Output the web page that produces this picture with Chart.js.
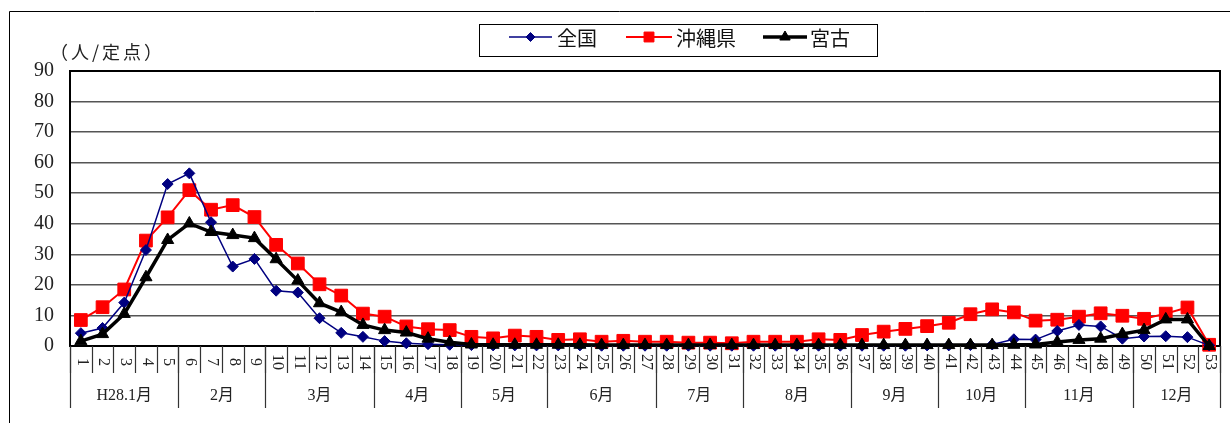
<!DOCTYPE html>
<html>
<head>
<meta charset="utf-8">
<script src="https://cdn.jsdelivr.net/npm/chart.js@4.4.1/dist/chart.umd.min.js"></script>
<style>
  html, body { margin: 0; padding: 0; background: #fff; }
</style>
</head>
<body>
<canvas id="myCanvas" width="1230" height="423"></canvas>
<script>
// week numbers along the bottom
var weeks = [
  '1', '2', '3', '4', '5', '6', '7', '8', '9', '10',
  '11', '12', '13', '14', '15', '16', '17', '18', '19', '20',
  '21', '22', '23', '24', '25', '26', '27', '28', '29', '30',
  '31', '32', '33', '34', '35', '36', '37', '38', '39', '40',
  '41', '42', '43', '44', '45', '46', '47', '48', '49', '50',
  '51', '52', '53'
];

// month row under the weeks, and the last week of each month
var monthLabels = ['H28.1月', '2月', '3月', '4月', '5月', '6月', '7月', '8月', '9月', '10月', '11月', '12月'];
var monthLastWeek = [5, 9, 14, 18, 22, 27, 31, 36, 40, 44, 49, 53];

var yTicks = [0, 10, 20, 30, 40, 50, 60, 70, 80, 90];

var zenkoku = [
  4.2, 5.9, 14.2, 31.4, 53.0, 56.5, 40.5, 26.0, 28.5, 18.1,
  17.5, 9.1, 4.3, 3.0, 1.6, 0.9, 0.6, 0.4, 0.3, 0.2,
  0.2, 0.2, 0.2, 0.2, 0.1, 0.1, 0.1, 0.1, 0.1, 0.1,
  0.1, 0.1, 0.1, 0.1, 0.1, 0.1, 0.1, 0.1, 0.1, 0.2,
  0.2, 0.3, 0.5, 2.2, 2.1, 4.9, 6.9, 6.4, 2.4, 3.1,
  3.2, 2.9, 0.2
];

var okinawa = [
  8.5, 12.7, 18.5, 34.5, 42.1, 51.0, 44.6, 46.1, 42.2, 33.1,
  27.0, 20.2, 16.5, 10.6, 9.6, 6.4, 5.5, 5.2, 3.0, 2.5,
  3.4, 3.0, 2.0, 2.2, 1.4, 1.7, 1.4, 1.4, 1.1, 1.1,
  0.9, 1.4, 1.4, 1.4, 2.2, 2.0, 3.6, 4.7, 5.6, 6.5,
  7.6, 10.4, 12.0, 11.0, 8.3, 8.6, 9.6, 10.7, 9.9, 8.9,
  10.6, 12.6, 0.4
];

var miyako = [
  1.6, 3.9, 10.5, 22.5, 34.7, 40.1, 37.3, 36.3, 35.3, 28.4,
  21.4, 14.0, 11.1, 6.9, 5.2, 4.4, 2.4, 1.2, 0.5, 0.4,
  0.4, 0.4, 0.4, 0.4, 0.3, 0.3, 0.3, 0.3, 0.3, 0.3,
  0.3, 0.3, 0.3, 0.3, 0.3, 0.3, 0.3, 0.3, 0.3, 0.3,
  0.3, 0.3, 0.3, 0.4, 0.5, 1.3, 2.0, 2.4, 3.9, 5.2,
  8.7, 8.7, 0.0
];

var serif = '"Liberation Serif", "Noto Sans CJK JP", serif';
var jp = '"Noto Sans CJK JP", sans-serif';

// frame, category rows, unit label and legend box
var decorations = {
  id: 'decorations',
  beforeDatasetsDraw: function(chart) {
    var ctx = chart.ctx;
    var a = chart.chartArea;
    ctx.save();
    ctx.strokeStyle = '#000';
    ctx.lineWidth = 2;
    ctx.strokeRect(a.left, a.top, a.right - a.left, a.bottom - a.top);
    ctx.restore();
  },
  afterDraw: function(chart) {
    var ctx = chart.ctx;
    var a = chart.chartArea;
    var xs = chart.scales.x;
    var catW = xs.getPixelForValue(1) - xs.getPixelForValue(0);
    var edge = function(i) { return xs.getPixelForValue(i) - catW / 2; };

    ctx.save();

    // outer frame
    ctx.strokeStyle = '#000';
    ctx.lineWidth = 1;
    ctx.beginPath();
    ctx.moveTo(9.5, 423);
    ctx.lineTo(9.5, 11.5);
    ctx.lineTo(1230, 11.5);
    ctx.stroke();

    // week separators
    ctx.strokeStyle = '#333';
    ctx.lineWidth = 1.2;
    ctx.beginPath();
    for (var i = 0; i <= weeks.length; i++) {
      var x = Math.round(edge(i)) + 0.5;
      ctx.moveTo(x, a.bottom);
      ctx.lineTo(x, a.bottom + 27);
    }
    ctx.stroke();

    // month separators
    ctx.beginPath();
    var ends = [0].concat(monthLastWeek);
    for (var m = 0; m < ends.length; m++) {
      var mx = Math.round(edge(ends[m])) + 0.5;
      ctx.moveTo(mx, a.bottom);
      ctx.lineTo(mx, a.bottom + 62);
    }
    ctx.stroke();

    // week labels, read top to bottom
    ctx.fillStyle = '#222';
    ctx.font = '16px ' + serif;
    ctx.textAlign = 'center';
    ctx.textBaseline = 'middle';
    for (var w = 0; w < weeks.length; w++) {
      ctx.save();
      ctx.translate(xs.getPixelForValue(w) + 1, a.bottom + 16);
      ctx.rotate(Math.PI / 2);
      ctx.fillText(weeks[w], 0, 0);
      ctx.restore();
    }

    // month labels
    ctx.font = '16px ' + serif;
    for (var k = 0; k < monthLabels.length; k++) {
      var cx = (edge(ends[k]) + edge(ends[k + 1])) / 2;
      ctx.fillText(monthLabels[k], cx, a.bottom + 50);
    }

    // unit label
    ctx.textAlign = 'left';
    ctx.font = '18px ' + jp;
    ctx.letterSpacing = '3px';
    ctx.fillText('（人/定点）', 50, 52);
    ctx.letterSpacing = '0px';

    // legend
    ctx.strokeStyle = '#000';
    ctx.lineWidth = 1;
    ctx.strokeRect(479.5, 24.5, 398, 32);
    var slots = [
      { x0: 509, x1: 552, tx: 557 },
      { x0: 626, x1: 672, tx: 676 },
      { x0: 763, x1: 807, tx: 810 }
    ];
    var ly = 37;
    chart.data.datasets.forEach(function(ds, idx) {
      var s = slots[idx];
      ctx.strokeStyle = ds.borderColor;
      ctx.fillStyle = ds.backgroundColor;
      ctx.lineWidth = ds.borderWidth;
      ctx.beginPath();
      ctx.moveTo(s.x0, ly);
      ctx.lineTo(s.x1, ly);
      ctx.stroke();
      ctx.lineWidth = 1;
      Chart.helpers.drawPoint(ctx, {
        pointStyle: ds.pointStyle,
        radius: ds.legendRadius,
        rotation: 0,
        borderWidth: 1
      }, (s.x0 + s.x1) / 2, ly);
      ctx.fillStyle = '#111';
      ctx.font = '20px ' + jp;
      ctx.textAlign = 'left';
      ctx.fillText(ds.label, s.tx, ly + 1);
    });

    ctx.restore();
  }
};

var ctx = document.getElementById('myCanvas');

var data = {
  labels: weeks,
  datasets: [
    {
      label: '全国',
      data: zenkoku,
      borderColor: '#000080',
      backgroundColor: '#000080',
      borderWidth: 1.5,
      pointStyle: 'rectRot',
      pointRadius: 5.5,
      legendRadius: 4.5,
      pointBorderWidth: 1,
      tension: 0,
      clip: false,
      order: 2
    }, {
      label: '沖縄県',
      data: okinawa,
      borderColor: '#ff0000',
      backgroundColor: '#ff0000',
      borderWidth: 2,
      pointStyle: 'rect',
      pointRadius: 9,
      legendRadius: 7,
      pointBorderWidth: 1,
      tension: 0,
      clip: false,
      order: 3
    }, {
      label: '宮古',
      data: miyako,
      borderColor: '#000000',
      backgroundColor: '#000000',
      borderWidth: 3.5,
      pointStyle: 'triangle',
      pointRadius: 7,
      legendRadius: 6,
      pointBorderWidth: 1,
      tension: 0,
      clip: false,
      order: 1
    }
  ]
};

var options = {
  responsive: false,
  devicePixelRatio: 1,
  animation: false,
  layout: {
    padding: { left: 10, top: 71, right: 2, bottom: 0 }
  },
  plugins: {
    legend: { display: false },
    title: { display: false },
    tooltip: { enabled: false }
  },
  scales: {
    x: {
      type: 'category',
      offset: true,
      grid: { display: false },
      border: { display: false },
      ticks: { display: false },
      afterFit: function(scale) { scale.height = 77; }
    },
    y: {
      min: 0,
      max: 90,
      afterBuildTicks: function(scale) {
        scale.ticks = yTicks.map(function(v) { return { value: v }; });
      },
      grid: { color: '#555', lineWidth: 1.5, drawTicks: false },
      border: { display: false },
      ticks: {
        padding: 16,
        color: '#222',
        font: { family: serif, size: 20 }
      },
      afterFit: function(scale) { scale.width = 60; }
    }
  }
};

var chart = new Chart(ctx, {
  type: 'line',
  data: data,
  options: options,
  plugins: [decorations]
});
</script>
</body>
</html>
